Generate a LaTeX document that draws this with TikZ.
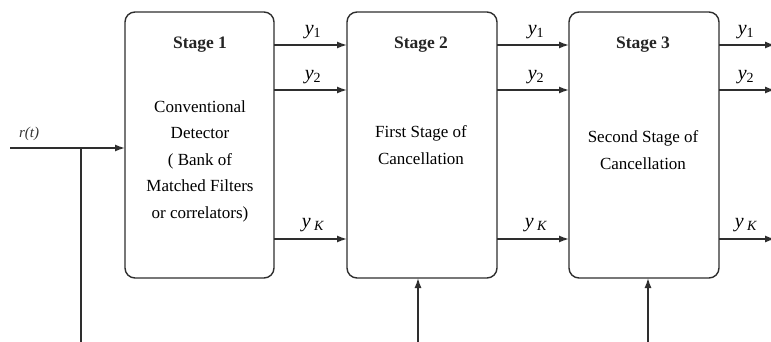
\documentclass[tikz,border=0pt]{standalone}
\usepackage{fontspec}
\newfontfamily\figserif{Liberation Serif}
\usetikzlibrary{arrows.meta}
\begin{document}
\begin{tikzpicture}[x=1pt,y=-1pt,
  line/.style={draw=black!82, line width=1.4pt},
  flow/.style={line, -{Latex[length=10pt,width=7pt]}},
  stagebox/.style={line, rounded corners=10pt},
  title/.style={font=\figserif\fontsize{17.5}{20}\selectfont\bfseries, text=black!85},
  body/.style={font=\figserif\fontsize{17}{26.5}\selectfont, align=center, text=black},
  ylab/.style={font=\figserif\fontsize{20}{22}\selectfont, text=black, inner sep=0pt}]
\useasboundingbox (0,0) rectangle (771,342);

% stage boxes
\draw[stagebox] (125,12) rectangle (274,278);
\draw[stagebox] (347,12) rectangle (497,278);
\draw[stagebox] (569,12) rectangle (719,278);
\coordinate (s1w) at (125,148);

% box texts
\node[title] (t1) at (200,45) {Stage 1};
\node[title] (t2) at (421,45) {Stage 2};
\node[title] (t3) at (643,45) {Stage 3};
\node[body] (b1) at (200,161) {Conventional\\Detector\\( Bank of\\Matched Filters\\or correlators)};
\node[body] (b2) at (421,145) {First Stage of\\Cancellation};
\node[body] (b3) at (643,150) {Second Stage of\\Cancellation};

% input and branch
\coordinate (rin) at (10,148);
\coordinate (br) at (81,148);
\coordinate (brend) at (81,342);
\node[font=\figserif\fontsize{15}{16}\selectfont\itshape, text=black!80] (rlab) at (29,134) {r(t)};
\draw[flow] (rin) -- (s1w);
\draw[line] (br) -- (brend);

% stage-to-stage signals
\foreach \xa/\xb/\n in {274/347/a, 497/569/b, 719/775/c}{
  \draw[flow] (\xa,45) -- (\xb,45);
  \draw[flow] (\xa,90) -- (\xb,90);
  \draw[flow] (\xa,239) -- (\xb,239);
}
\foreach \xl/\n in {313/a, 536/b, 746/c}{
  \node[ylab] (y1\n) at (\xl,32) {\itshape y\textsubscript{\upshape 1}};
  \node[ylab] (y2\n) at (\xl,77) {\itshape y\textsubscript{\upshape 2}};
  \node[ylab] (yk\n) at (\xl,225) {\itshape y\,\textsubscript{K}};
}

% feedback inputs from below
\coordinate (f2) at (418,342);
\coordinate (f2t) at (418,278);
\coordinate (f3) at (648,342);
\coordinate (f3t) at (648,278);
\draw[flow] (f2) -- (f2t);
\draw[flow] (f3) -- (f3t);
\end{tikzpicture}
\end{document}
